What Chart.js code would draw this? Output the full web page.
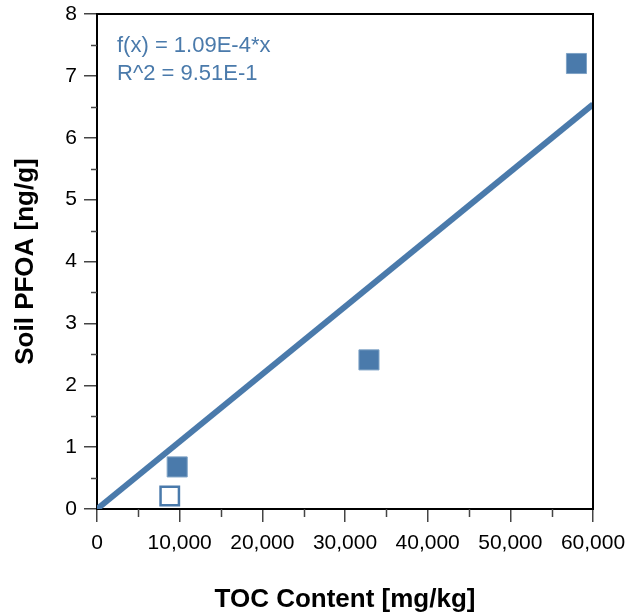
<!DOCTYPE html>
<html>
<head>
<meta charset="utf-8">
<script src="https://cdn.jsdelivr.net/npm/chart.js@4"></script>
<style>
html,body{margin:0;padding:0;background:#fff;}
#wrap{width:628px;height:615px;position:relative;}
</style>
</head>
<body>
<div id="wrap"><canvas id="c" width="628" height="615"></canvas></div>
<script>
// Data
const tocFilled = [9700, 32900, 58000];
const pfoaFilled = [0.68, 2.41, 7.2];
const tocHollow = [8800];
const pfoaHollow = [0.21];
const fitX = [0, 60000];
const fitY = [0, 6.54];
const fitLabel = ['f(x) = 1.09E-4*x', 'R^2 = 9.51E-1'];
const xTitle = 'TOC Content [mg/kg]';
const yTitle = 'Soil PFOA [ng/g]';

const BLUE = '#4a7aab';
const FONT = '"Liberation Sans", Arial, Helvetica, sans-serif';

const toPts = (xs, ys) => xs.map((x, i) => ({x: x, y: ys[i]}));

const framePlugin = {
  id: 'frame',
  afterDraw(chart) {
    const {ctx, chartArea: a, scales} = chart;
    const xs = scales.x, ys = scales.y;
    ctx.save();
    ctx.strokeStyle = '#000';
    ctx.lineWidth = 2;
    ctx.beginPath();
    ctx.moveTo(a.left - 1, a.top);
    ctx.lineTo(a.right, a.top);
    ctx.lineTo(a.right, a.bottom + 1);
    ctx.stroke();
    ctx.strokeStyle = '#444';
    ctx.lineWidth = 1.5;
    ctx.beginPath();
    for (let v = 5000; v < 60000; v += 10000) {
      const px = Math.round(xs.getPixelForValue(v)) + 0.5;
      ctx.moveTo(px, a.bottom);
      ctx.lineTo(px, a.bottom + 8);
    }
    for (let v = 0.5; v < 8; v += 1) {
      const py = Math.round(ys.getPixelForValue(v)) + 0.5;
      ctx.moveTo(a.left, py);
      ctx.lineTo(a.left - 6, py);
    }
    ctx.stroke();
    ctx.fillStyle = BLUE;
    ctx.font = '22px ' + FONT;
    ctx.textBaseline = 'alphabetic';
    ctx.textAlign = 'left';
    ctx.fillText(fitLabel[0], a.left + 20, a.top + 38);
    ctx.fillText(fitLabel[1], a.left + 20, a.top + 66);
    ctx.restore();
  }
};

function zeroPad(s) {
  s.paddingLeft = 0; s.paddingRight = 0; s.paddingTop = 0; s.paddingBottom = 0;
}

new Chart(document.getElementById('c'), {
  type: 'scatter',
  data: {
    datasets: [
      {
        type: 'line',
        data: toPts(fitX, fitY),
        borderColor: BLUE,
        borderWidth: 6,
        pointRadius: 0,
        fill: false,
        order: 3
      },
      {
        data: toPts(tocFilled, pfoaFilled),
        pointStyle: 'rect',
        pointRadius: 14.2,
        backgroundColor: BLUE,
        borderColor: '#7fa3c6',
        borderWidth: 1,
        order: 1
      },
      {
        data: toPts(tocHollow, pfoaHollow),
        pointStyle: 'rect',
        pointRadius: 13,
        backgroundColor: '#fff',
        borderColor: BLUE,
        borderWidth: 2.5,
        order: 2
      }
    ]
  },
  options: {
    responsive: false,
    animation: false,
    devicePixelRatio: 1,
    layout: {padding: {left: 0, right: 35, top: 14, bottom: 0}, autoPadding: false},
    plugins: {legend: {display: false}, tooltip: {enabled: false}},
    scales: {
      x: {
        type: 'linear',
        min: 0, max: 60000,
        afterFit(s) { s.height = 106; zeroPad(s); },
        ticks: {
          stepSize: 10000,
          color: '#000',
          padding: 9,
          maxRotation: 0,
          font: {family: FONT, size: 21},
          callback: v => Number(v).toLocaleString('en-US')
        },
        grid: {drawOnChartArea: false, tickLength: 13, color: '#444', lineWidth: 1.5},
        border: {color: '#000', width: 2},
        title: {
          display: true, text: xTitle, color: '#000',
          font: {family: FONT, size: 26, weight: 'bold', lineHeight: 1.2},
          padding: {top: 0, bottom: 0}
        }
      },
      y: {
        type: 'linear',
        min: 0, max: 8,
        afterFit(s) { s.width = 97; zeroPad(s); },
        ticks: {
          stepSize: 1,
          color: '#000',
          padding: 7,
          font: {family: FONT, size: 21}
        },
        grid: {drawOnChartArea: false, tickLength: 13, color: '#444', lineWidth: 1.5},
        border: {color: '#000', width: 2},
        title: {
          display: true, text: yTitle, color: '#000',
          font: {family: FONT, size: 26, weight: 'bold', lineHeight: 1.2},
          padding: {top: 10, bottom: 0}
        }
      }
    }
  },
  plugins: [framePlugin]
});
</script>
</body>
</html>
